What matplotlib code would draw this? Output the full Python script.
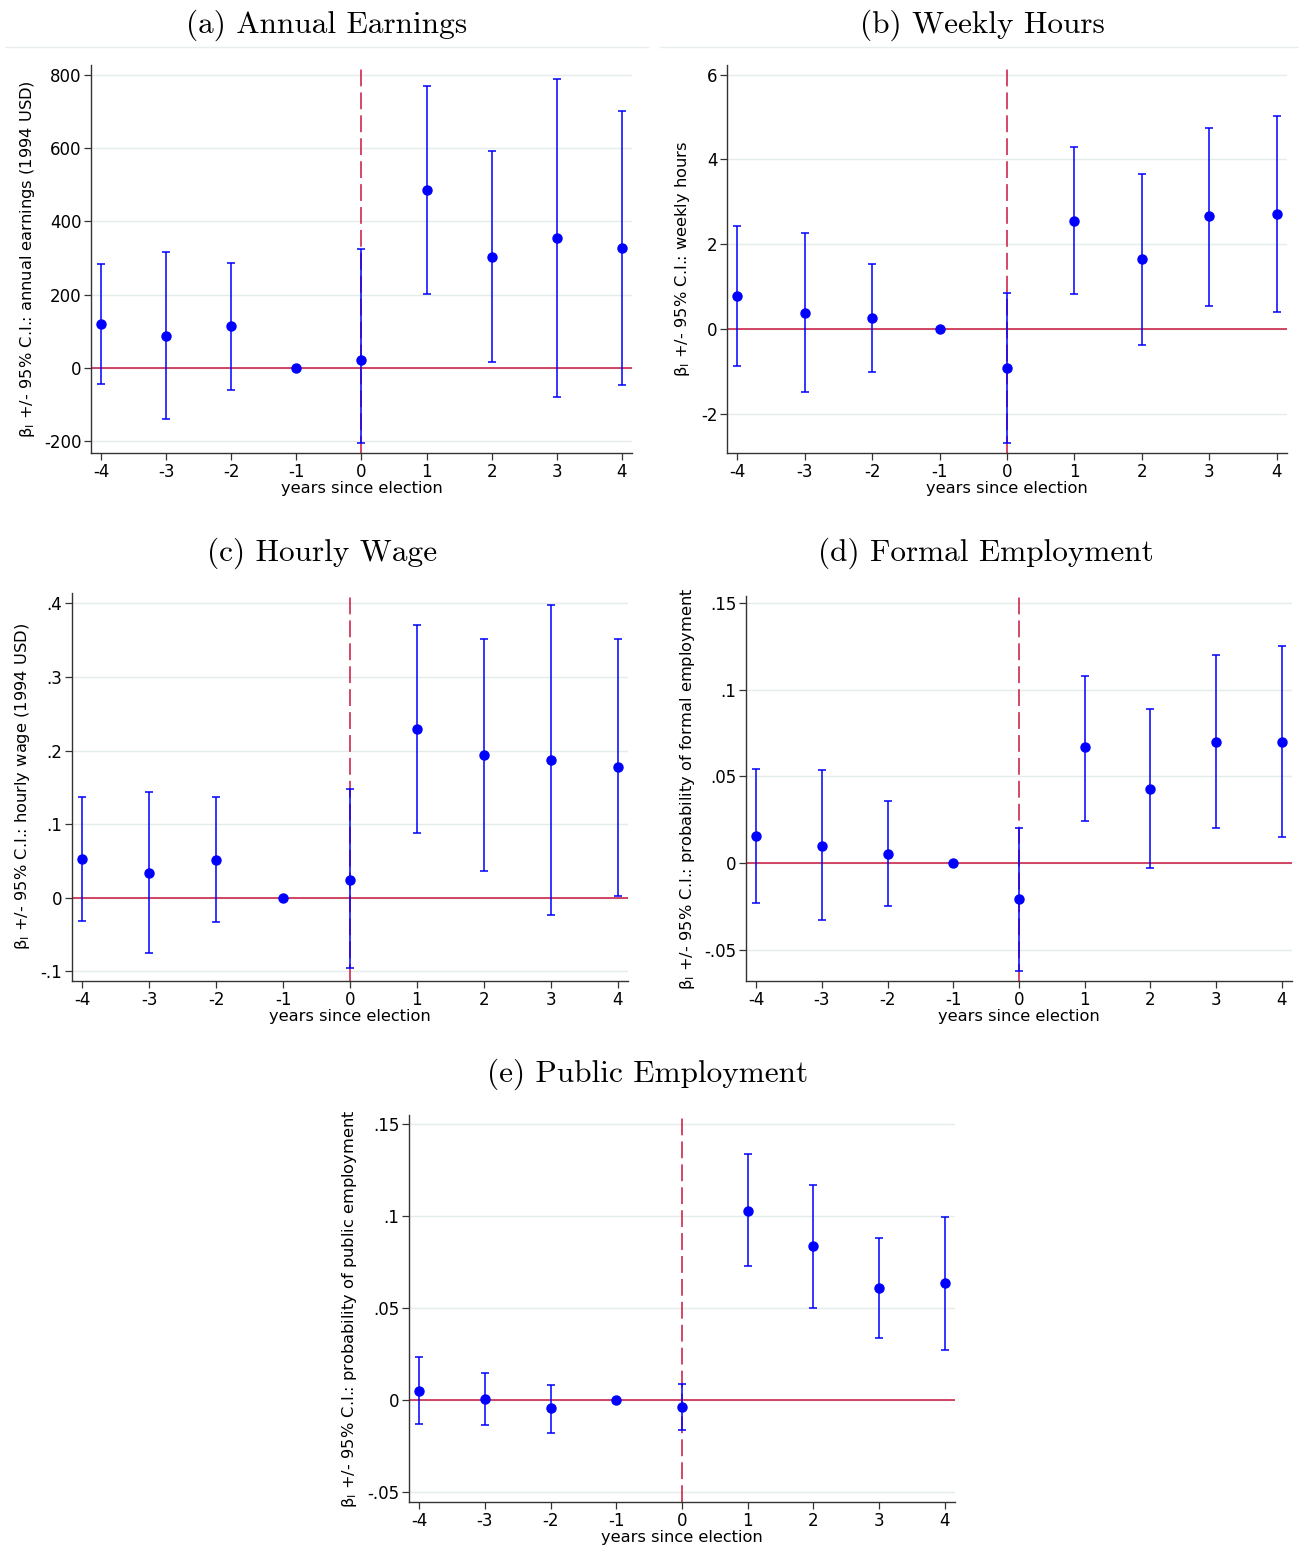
import matplotlib
matplotlib.use("Agg")
import matplotlib.pyplot as plt
from matplotlib.lines import Line2D

# ---------------- data ----------------
years = [-4, -3, -2, -1, 0, 1, 2, 3, 4]

earn_coef = [119, 87, 114, 0, 22, 486, 303, 355, 328]
earn_hi = [285, 317, 287, 0, 325, 770, 592, 789, 702]
earn_lo = [-45, -140, -61, 0, -205, 202, 16, -78, -46]

hours_coef = [0.78, 0.38, 0.26, 0, -0.92, 2.55, 1.65, 2.67, 2.72]
hours_hi = [2.43, 2.27, 1.53, 0, 0.85, 4.30, 3.66, 4.75, 5.03]
hours_lo = [-0.87, -1.49, -1.02, 0, -2.69, 0.83, -0.38, 0.54, 0.40]

wage_coef = [0.053, 0.034, 0.052, 0, 0.024, 0.229, 0.194, 0.187, 0.178]
wage_hi = [0.137, 0.144, 0.137, 0, 0.148, 0.370, 0.351, 0.398, 0.351]
wage_lo = [-0.031, -0.075, -0.033, 0, -0.096, 0.088, 0.037, -0.024, 0.003]

formal_coef = [0.0156, 0.0098, 0.0050, 0, -0.021, 0.067, 0.043, 0.070, 0.070]
formal_hi = [0.054, 0.0536, 0.036, 0, 0.020, 0.108, 0.089, 0.120, 0.125]
formal_lo = [-0.023, -0.033, -0.025, 0, -0.062, 0.024, -0.003, 0.020, 0.015]

public_coef = [0.0049, 0.0005, -0.0043, 0, -0.0038, 0.103, 0.084, 0.061, 0.0636]
public_hi = [0.0234, 0.015, 0.008, 0, 0.0087, 0.134, 0.117, 0.088, 0.0995]
public_lo = [-0.013, -0.0136, -0.018, 0, -0.016, 0.073, 0.050, 0.034, 0.027]

xtick_labels = ["-4", "-3", "-2", "-1", "0", "1", "2", "3", "4"]

earn_ticks = [-200, 0, 200, 400, 600, 800]
earn_tlabels = ["-200", "0", "200", "400", "600", "800"]
hours_ticks = [-2, 0, 2, 4, 6]
hours_tlabels = ["-2", "0", "2", "4", "6"]
wage_ticks = [-0.1, 0, 0.1, 0.2, 0.3, 0.4]
wage_tlabels = ["-.1", "0", ".1", ".2", ".3", ".4"]
formal_ticks = [-0.05, 0, 0.05, 0.1, 0.15]
formal_tlabels = ["-.05", "0", ".05", ".1", ".15"]
public_ticks = [-0.05, 0, 0.05, 0.1, 0.15]
public_tlabels = ["-.05", "0", ".05", ".1", ".15"]

titles = ["(a) Annual Earnings", "(b) Weekly Hours", "(c) Hourly Wage",
          "(d) Formal Employment", "(e) Public Employment"]
ylabels = [r"β$_\mathrm{l}$ +/- 95% C.I.: annual earnings (1994 USD)",
           r"β$_\mathrm{l}$ +/- 95% C.I.: weekly hours",
           r"β$_\mathrm{l}$ +/- 95% C.I.: hourly wage (1994 USD)",
           r"β$_\mathrm{l}$ +/- 95% C.I.: probability of formal employment",
           r"β$_\mathrm{l}$ +/- 95% C.I.: probability of public employment"]
xlabel = "years since election"

# ---------------- layout ----------------
W, H = 1299, 1558
plt.rcParams['mathtext.fontset'] = 'dejavusans'
fig = plt.figure(figsize=(W / 100, H / 100), dpi=100)

BLUE = '#0000ff'
RED = '#c8163c'
GRID = '#e4ecec'
FS_LAB = 11.7
FS_TICK = 12.0


def rect(left, right, top, bottom):
    return [left / W, 1 - bottom / H, (right - left) / W, (bottom - top) / H]


panels = [
    dict(px=(91, 632, 65, 453), ylim=(-232, 827), coef=earn_coef, hi=earn_hi, lo=earn_lo,
         ticks=earn_ticks, tl=earn_tlabels, ylab_x=37, title_xy=(327, 25)),
    dict(px=(727, 1287, 65, 453), ylim=(-2.93, 6.23), coef=hours_coef, hi=hours_hi, lo=hours_lo,
         ticks=hours_ticks, tl=hours_tlabels, ylab_x=692, title_xy=(982, 25)),
    dict(px=(72, 628, 593, 981), ylim=(-0.113, 0.414), coef=wage_coef, hi=wage_hi, lo=wage_lo,
         ticks=wage_ticks, tl=wage_tlabels, ylab_x=32, title_xy=(322, 553)),
    dict(px=(746, 1292, 596, 981), ylim=(-0.068, 0.154), coef=formal_coef, hi=formal_hi, lo=formal_lo,
         ticks=formal_ticks, tl=formal_tlabels, ylab_x=697, title_xy=(986, 553)),
    dict(px=(409, 955, 1115, 1502), ylim=(-0.0554, 0.155), coef=public_coef, hi=public_hi, lo=public_lo,
         ticks=public_ticks, tl=public_tlabels, ylab_x=359, title_xy=(648, 1074)),
]

for i, p in enumerate(panels):
    l, r, t, b = p['px']
    ax = fig.add_axes(rect(l, r, t, b))
    ax.set_xlim(-4.155, 4.155)
    ax.set_ylim(*p['ylim'])
    for s in ['top', 'right']:
        ax.spines[s].set_visible(False)
    for s in ['left', 'bottom']:
        ax.spines[s].set_color('#333333')
        ax.spines[s].set_linewidth(1.0)
    ax.set_yticks(p['ticks'])
    ax.set_yticklabels(p['tl'])
    ax.set_xticks(years)
    ax.set_xticklabels(xtick_labels)
    ax.tick_params(axis='both', labelsize=FS_TICK, length=5, width=0.9, color='#333333', pad=2)
    for yv in p['ticks']:
        ax.axhline(yv, color=GRID, lw=1.0, zorder=0)
    ax.axhline(0, color=RED, lw=1.1, zorder=1)
    ax.axvline(0, color=RED, lw=1.1, dashes=(11, 4), zorder=1)
    # error bars for all except the reference year (-1)
    xs = [x for x in years if x != -1]
    cs = [c for x, c in zip(years, p['coef']) if x != -1]
    his = [h for x, h in zip(years, p['hi']) if x != -1]
    los = [lo for x, lo in zip(years, p['lo']) if x != -1]
    yerr = [[c - lo for c, lo in zip(cs, los)], [h - c for c, h in zip(cs, his)]]
    ax.errorbar(xs, cs, yerr=yerr, fmt='none', ecolor=BLUE, elinewidth=1.1,
                capsize=3, capthick=1.1, zorder=3)
    ax.plot(years, p['coef'], 'o', color=BLUE, markersize=6.5, zorder=4)
    ax.set_xlabel(xlabel, fontsize=FS_LAB, labelpad=0)
    ax.set_ylabel(ylabels[i], fontsize=FS_LAB)
    ax.yaxis.set_label_coords((p['ylab_x'] - l) / (r - l), 0.5)
    tx, ty = p['title_xy']
    fig.text(tx / W, 1 - ty / H, titles[i], family='cmr10', fontsize=22.5,
             ha='center', va='center')

# separator lines under the top-row titles
for x0, x1 in [(5, 648), (660, 1299)]:
    fig.add_artist(Line2D([x0 / W, x1 / W], [1 - 47 / H, 1 - 47 / H],
                          transform=fig.transFigure, color='#e8eeee', lw=1.0))

fig.savefig('out.png', dpi=100)
